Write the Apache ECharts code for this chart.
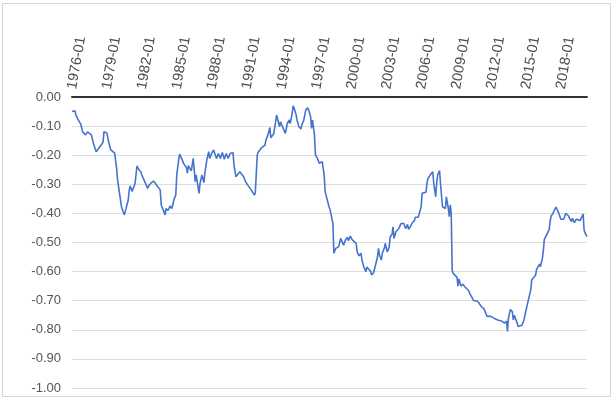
<!DOCTYPE html>
<html>
<head>
<meta charset="utf-8">
<script src="https://cdn.jsdelivr.net/npm/echarts@6/dist/echarts.min.js"></script>
<style>
html,body{margin:0;padding:0;background:#fff;}
#chart{width:614px;height:401px;}
</style>
</head>
<body>
<div id="chart"></div>
<script>
const dates = [
"1976-01","1976-02","1976-04","1976-05","1976-07","1976-09","1976-10","1976-12",
"1977-03","1977-05","1977-07","1977-09","1977-11",
"1978-01","1978-02","1978-04","1978-06","1978-07","1978-09","1978-10","1978-12",
"1979-01","1979-03","1979-05","1979-07","1979-09","1979-11","1979-12",
"1980-02","1980-04","1980-06","1980-07","1980-09","1980-11","1980-12",
"1981-01","1981-03","1981-05","1981-06","1981-08","1981-10","1981-12",
"1982-01","1982-04","1982-07","1982-08","1982-10",
"1983-01","1983-03","1983-05","1983-08","1983-09","1983-11",
"1984-01","1984-02","1984-04","1984-06","1984-08","1984-10","1984-12",
"1985-01","1985-03","1985-04","1985-06","1985-08","1985-11","1985-12",
"1986-01","1986-03","1986-04","1986-06","1986-08","1986-09","1986-12",
"1987-01","1987-03","1987-05","1987-06","1987-08","1987-10","1987-11",
"1988-01","1988-03","1988-05","1988-06","1988-08","1988-10","1988-12",
"1989-02","1989-04","1989-06","1989-08","1989-11","1989-12",
"1990-02","1990-04","1990-06","1990-08","1990-10","1990-12",
"1991-02","1991-04","1991-06","1991-07","1991-09","1991-10","1991-12",
"1992-01","1992-04","1992-06","1992-08","1992-09","1992-11",
"1993-01","1993-02","1993-04","1993-05","1993-07","1993-08","1993-10","1993-11","1993-12",
"1994-02","1994-03","1994-05","1994-07","1994-08","1994-09","1994-10","1994-12",
"1995-01","1995-02","1995-04","1995-05","1995-07","1995-09","1995-10","1995-12",
"1996-02","1996-04","1996-05","1996-07","1996-08","1996-09","1996-11","1996-12",
"1997-02","1997-03","1997-04","1997-06","1997-07","1997-09","1997-10","1997-12",
"1998-02","1998-03","1998-05","1998-06","1998-07","1998-09","1998-10","1998-12",
"1999-02","1999-03","1999-05","1999-07","1999-09","1999-10","1999-12",
"2000-02","2000-04","2000-06","2000-07","2000-09","2000-11","2000-12",
"2001-02","2001-04","2001-05","2001-07","2001-09","2001-10","2001-12",
"2002-02","2002-04","2002-05","2002-06","2002-08","2002-09","2002-11","2002-12",
"2003-02","2003-04","2003-05","2003-07","2003-08","2003-09","2003-11",
"2004-01","2004-02","2004-04","2004-06","2004-07","2004-09","2004-11","2004-12",
"2005-02","2005-04","2005-06","2005-07","2005-10","2005-12",
"2006-01","2006-02","2006-04","2006-06","2006-07","2006-08","2006-09","2006-11",
"2007-01","2007-02","2007-04","2007-05","2007-06","2007-08","2007-09","2007-11",
"2008-01","2008-02","2008-03","2008-05","2008-06","2008-07","2008-08","2008-09","2008-10","2008-12",
"2009-02","2009-03","2009-04","2009-06","2009-08","2009-10","2009-12",
"2010-02","2010-03","2010-05","2010-07","2010-09","2010-11",
"2011-01","2011-03","2011-04","2011-06","2011-08","2011-09","2011-11",
"2012-01","2012-04","2012-06","2012-08","2012-10","2012-12",
"2013-02","2013-03","2013-05","2013-06","2013-07","2013-09","2013-11","2013-12",
"2014-01","2014-03","2014-04","2014-05","2014-07","2014-09","2014-11","2014-12",
"2015-02","2015-04","2015-06","2015-07","2015-09","2015-11","2015-12",
"2016-01","2016-03","2016-04","2016-06","2016-07","2016-08","2016-10","2016-12",
"2017-01","2017-02","2017-03","2017-05","2017-06","2017-08","2017-10","2017-11",
"2018-01","2018-02","2018-04","2018-06","2018-07","2018-09","2018-10","2018-12",
"2019-01","2019-03","2019-05","2019-07","2019-09","2019-10","2019-12",
"2020-01","2020-02","2020-04"
];
const values = [
-0.050,-0.047,-0.047,-0.062,-0.076,-0.081,-0.093,-0.120,
-0.130,-0.120,-0.118,-0.130,-0.158,
-0.179,-0.188,-0.179,-0.184,-0.165,-0.155,-0.119,-0.119,
-0.124,-0.157,-0.182,-0.179,-0.193,-0.245,-0.285,
-0.331,-0.377,-0.397,-0.405,-0.400,-0.354,-0.320,
-0.306,-0.325,-0.331,-0.297,-0.237,-0.250,-0.257,
-0.268,-0.291,-0.314,-0.306,-0.297,
-0.289,-0.297,-0.303,-0.320,-0.371,-0.388,
-0.405,-0.383,-0.390,-0.375,-0.383,-0.354,-0.337,
-0.268,-0.216,-0.196,-0.211,-0.228,-0.242,-0.262,
-0.236,-0.230,-0.254,-0.211,-0.291,-0.268,-0.331,
-0.297,-0.268,-0.294,-0.262,-0.216,-0.188,-0.211,
-0.194,-0.182,-0.188,-0.211,-0.194,-0.211,-0.191,
-0.214,-0.194,-0.211,-0.194,-0.191,-0.234,
-0.274,-0.280,-0.257,-0.251,-0.274,-0.291,
-0.302,-0.300,-0.320,-0.317,-0.337,-0.330,-0.199,
-0.190,-0.176,-0.180,-0.165,-0.148,-0.131,
-0.105,-0.140,-0.142,-0.126,-0.085,-0.062,-0.067,-0.102,-0.085,
-0.102,-0.108,-0.125,-0.091,-0.097,-0.079,-0.091,-0.056,
-0.030,-0.039,-0.060,-0.079,-0.102,-0.110,-0.096,-0.079,
-0.045,-0.037,-0.045,-0.068,-0.108,-0.079,-0.131,-0.199,
-0.211,-0.205,-0.228,-0.234,-0.222,-0.268,-0.325,-0.330,
-0.377,-0.386,-0.390,-0.434,-0.537,-0.520,-0.525,-0.514,
-0.486,-0.482,-0.509,-0.491,-0.482,-0.494,-0.478,
-0.491,-0.497,-0.503,-0.532,-0.546,-0.537,-0.560,
-0.585,-0.600,-0.584,-0.589,-0.600,-0.612,-0.604,
-0.600,-0.549,-0.520,-0.543,-0.560,-0.537,-0.520,-0.503,
-0.532,-0.517,-0.482,-0.471,-0.446,-0.486,-0.463,
-0.469,-0.452,-0.436,-0.432,-0.434,-0.452,-0.438,-0.455,
-0.445,-0.432,-0.425,-0.413,-0.413,-0.417,
-0.377,-0.331,-0.329,-0.327,-0.297,-0.280,-0.274,-0.265,
-0.257,-0.297,-0.343,-0.297,-0.268,-0.253,-0.300,-0.377,
-0.377,-0.383,-0.343,-0.383,-0.411,-0.371,-0.400,-0.595,-0.606,-0.610,
-0.620,-0.650,-0.625,-0.650,-0.643,-0.652,-0.658,
-0.666,-0.675,-0.686,-0.699,-0.699,-0.702,
-0.710,-0.720,-0.720,-0.729,-0.746,-0.754,-0.760,
-0.754,-0.760,-0.763,-0.766,-0.770,-0.770,
-0.774,-0.777,-0.770,-0.806,-0.760,-0.730,-0.738,-0.766,
-0.750,-0.755,-0.777,-0.789,-0.792,-0.784,-0.766,-0.750,
-0.720,-0.716,-0.663,-0.629,-0.627,-0.612,-0.592,
-0.597,-0.574,-0.583,-0.554,-0.527,-0.489,-0.486,-0.463,
-0.455,-0.428,-0.409,-0.400,-0.391,-0.378,-0.378,-0.400,
-0.420,-0.417,-0.420,-0.400,-0.395,-0.409,-0.417,-0.428,
-0.417,-0.432,-0.420,-0.424,-0.424,-0.420,-0.402,
-0.457,-0.467,-0.480
];
const startYear = 1976;
const lastMonth = "2020-04";
const labelEveryMonths = 36;

function monthIndex(s){
  const p = s.split('-');
  return (parseInt(p[0],10) - startYear) * 12 + (parseInt(p[1],10) - 1);
}
const seriesData = dates.map((d,i) => [monthIndex(d), values[i]]);
const font = "'Liberation Sans', Arial, sans-serif";

const chart = echarts.init(document.getElementById('chart'), null, {renderer:'canvas'});
chart.setOption({
  animation: false,
  backgroundColor: '#ffffff',
  graphic: [{
    type: 'rect', silent: true, z: -1,
    shape: {x: 2.5, y: 3.5, width: 608, height: 393},
    style: {fill: 'none', stroke: '#d6d6d6', lineWidth: 1}
  }],
  grid: {left: 72, right: 27, top: 97, bottom: 13, containLabel: false},
  xAxis: {
    type: 'value', position: 'top',
    min: 0, max: monthIndex(lastMonth), interval: labelEveryMonths,
    axisLine: {show: true, onZero: false, lineStyle: {color: '#333333', width: 2}},
    axisTick: {show: false},
    splitLine: {show: false},
    axisLabel: {
      rotate: -80, margin: 8, color: '#4d4d4d', fontSize: 14.5, fontFamily: font,
      showMaxLabel: false,
      formatter: v => (v % labelEveryMonths === 0) ? (startYear + v / 12) + '-01' : ''
    }
  },
  yAxis: {
    type: 'value', min: -1, max: 0, interval: 0.1,
    axisLine: {show: false}, axisTick: {show: false},
    splitLine: {show: true, lineStyle: {color: '#dddddd', width: 1}},
    axisLabel: {
      margin: 11, color: '#555555', fontSize: 13, fontFamily: font,
      formatter: v => (Math.abs(v) < 1e-9 ? 0 : v).toFixed(2)
    }
  },
  series: [{
    type: 'line', data: seriesData, showSymbol: false, symbol: 'none',
    lineStyle: {color: '#4674cc', width: 1.6},
    itemStyle: {color: '#4674cc'}
  }]
});
</script>
</body>
</html>
